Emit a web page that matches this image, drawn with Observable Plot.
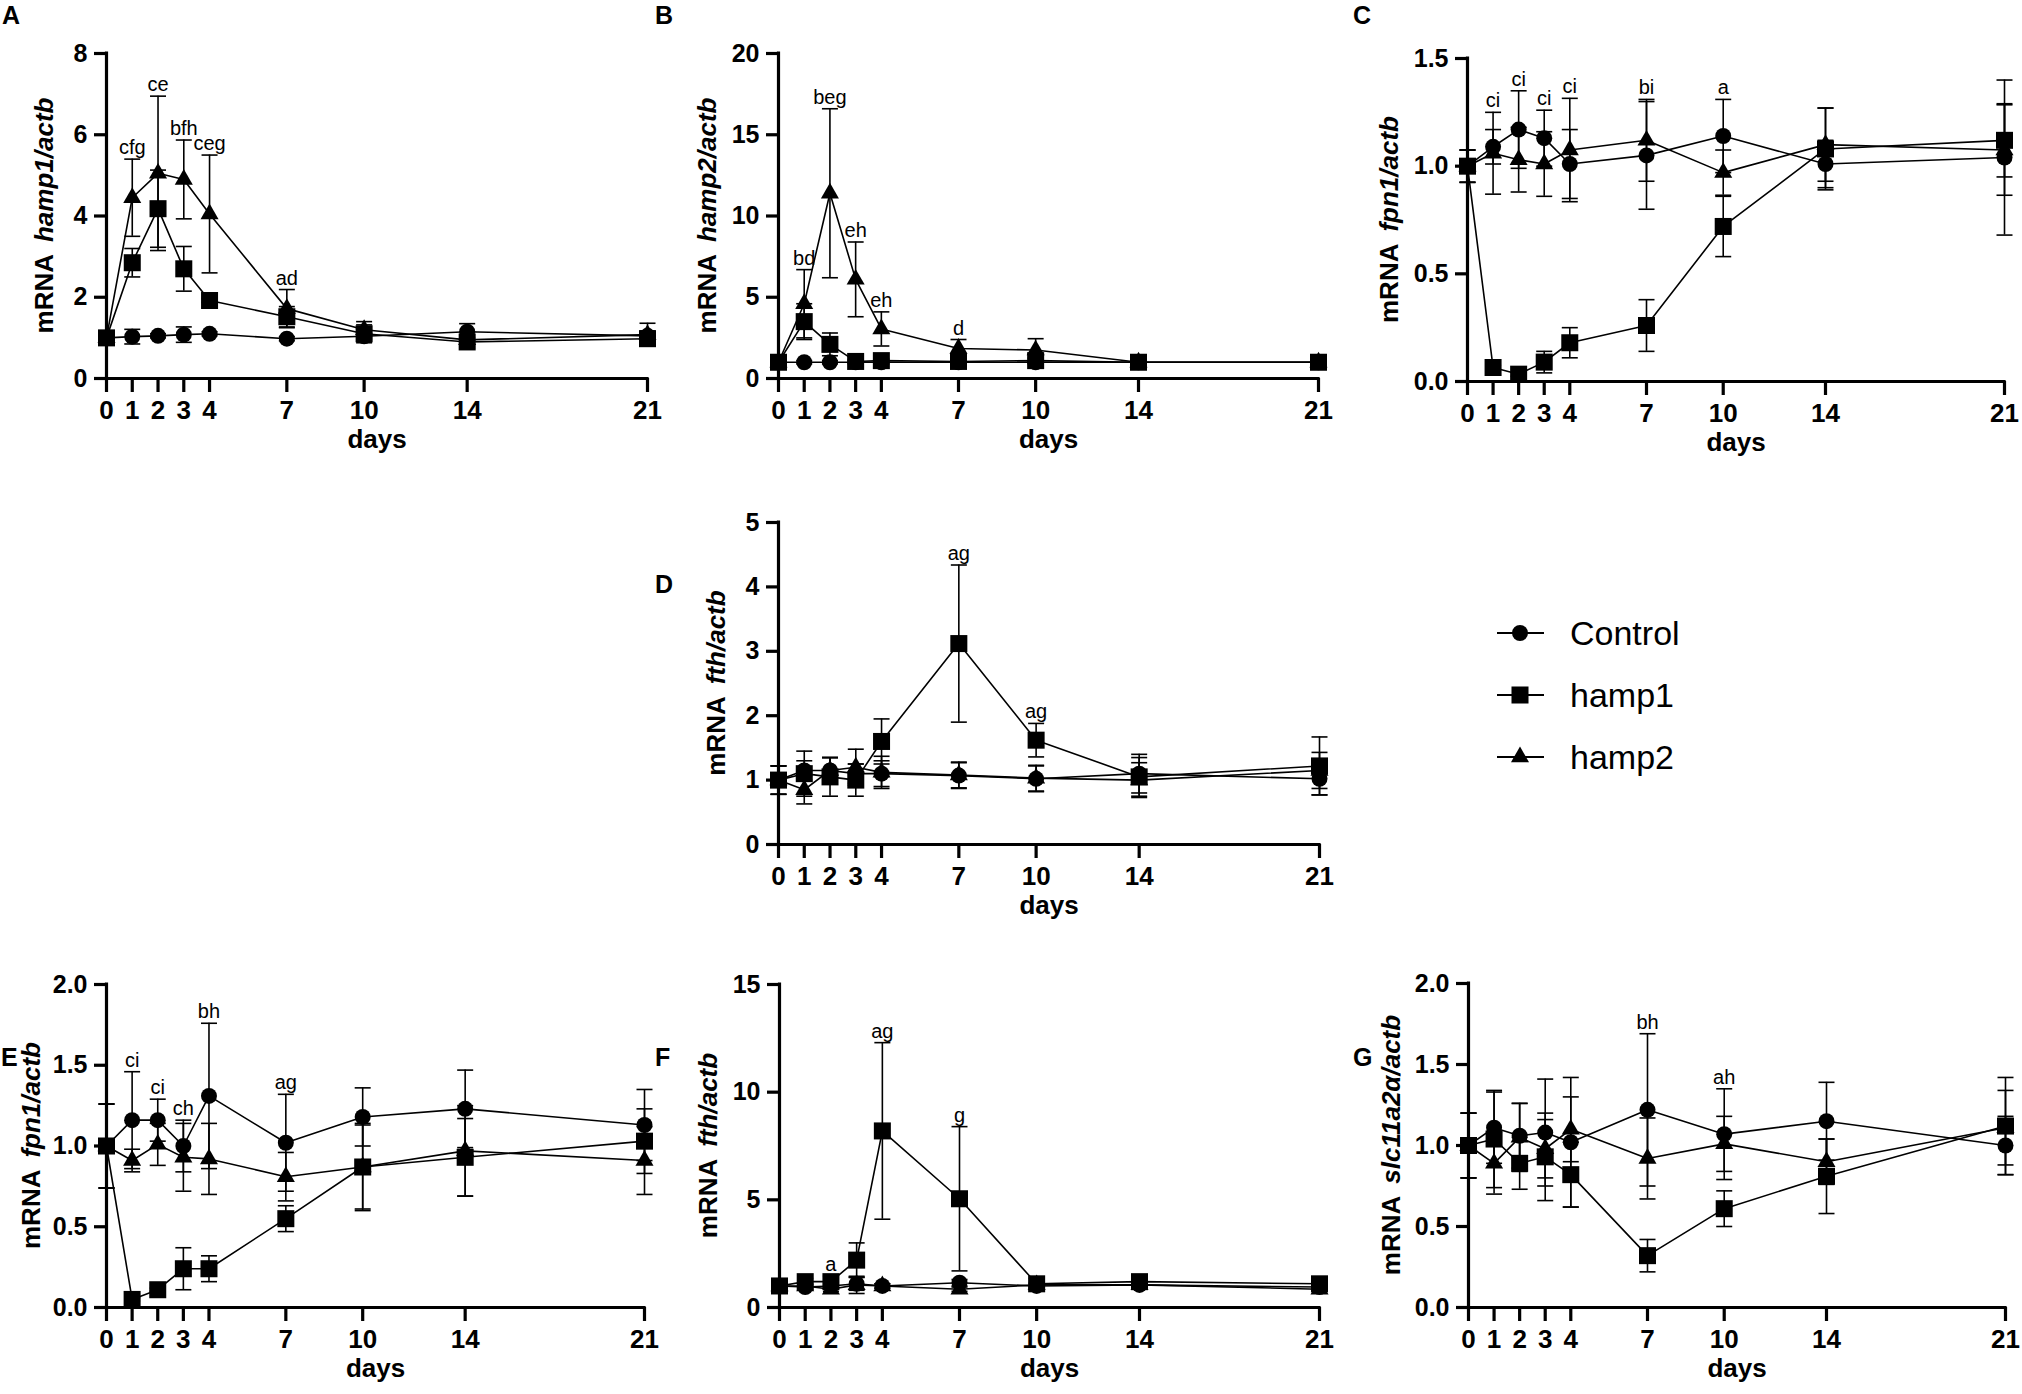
<!DOCTYPE html>
<html><head><meta charset="utf-8">
<script src="https://cdn.jsdelivr.net/npm/d3@7"></script>
<script src="https://cdn.jsdelivr.net/npm/@observablehq/plot@0.6"></script>
<style>
body{margin:0;background:#fff;}
#fig{position:relative;width:2022px;height:1394px;background:#fff;overflow:hidden;font-family:"Liberation Sans",Arial,sans-serif;}
#fig svg{position:absolute;overflow:visible;}
.plabel{position:absolute;font:bold 25px "Liberation Sans",Arial,sans-serif;line-height:1;}
</style></head><body><div id="fig"></div>
<script>
// ---------- data ----------
const days = [0, 1, 2, 3, 4, 7, 10, 14, 21];

// A: hamp1/actb
const aCtrl   = [1.00, 1.03, 1.05, 1.08, 1.10, 0.98, 1.04, 1.15, 1.05];
const aCtrlSd = [0.05, 0.18, 0.05, 0.19, 0.05, 0.05, 0.08, 0.20, 0.12];
const aH1     = [1.00, 2.85, 4.18, 2.70, 1.92, 1.52, 1.10, 0.90, 0.98];
const aH1Sd   = [0.05, 0.35, 0.95, 0.55, 0.05, 0.25, 0.22, 0.10, 0.10];
const aH2     = [1.00, 4.45, 5.05, 4.90, 4.05, 1.72, 1.20, 0.95, 1.08];
const aH2Sd   = [0.05, 0.95, 1.90, 0.97, 1.45, 0.47, 0.20, 0.20, 0.28];
const aAnn    = ["", "cfg", "ce", "bfh", "ceg", "ad", "", "", ""];
const aTicks  = [0, 2, 4, 6, 8];

// B: hamp2/actb
const bCtrl   = [1.00, 1.00, 1.00, 1.00, 1.00, 1.00, 1.00, 1.00, 1.00];
const bCtrlSd = [0.10, 0.10, 0.10, 0.10, 0.10, 0.10, 0.10, 0.10, 0.10];
const bH1     = [1.00, 3.50, 2.10, 1.05, 1.10, 1.05, 1.10, 1.00, 1.00];
const bH1Sd   = [0.10, 1.10, 0.70, 0.10, 0.10, 0.15, 0.15, 0.10, 0.10];
const bH2     = [1.00, 4.60, 11.40, 6.10, 3.05, 1.85, 1.75, 1.00, 1.00];
const bH2Sd   = [0.10, 2.10, 5.20, 2.30, 1.05, 0.55, 0.70, 0.10, 0.10];
const bAnn    = ["", "bd", "beg", "eh", "eh", "d", "", "", ""];
const bTicks  = [0, 5, 10, 15, 20];

// C: fpn1/actb
const cCtrl   = [1.00, 1.09, 1.17, 1.13, 1.01, 1.05, 1.14, 1.01, 1.04];
const cCtrlSd = [0.075, 0.08, 0.18, 0.13, 0.16, 0.25, 0.17, 0.11, 0.36];
const cH1     = [1.00, 0.065, 0.034, 0.09, 0.18, 0.26, 0.72, 1.08, 1.12];
const cH1Sd   = [0.075, 0.01, 0.01, 0.05, 0.07, 0.12, 0.14, 0.19, 0.17];
const cH2     = [1.00, 1.06, 1.03, 1.01, 1.075, 1.12, 0.97, 1.10, 1.075];
const cH2Sd   = [0.075, 0.19, 0.15, 0.15, 0.24, 0.19, 0.105, 0.17, 0.21];
const cAnn    = ["", "ci", "ci", "ci", "ci", "bi", "a", "", ""];
const cTicks  = [0, 0.5, 1.0, 1.5];

// D: fth/actb
const dCtrl   = [1.00, 1.15, 1.15, 1.10, 1.10, 1.07, 1.02, 1.10, 1.02];
const dCtrlSd = [0.22, 0.15, 0.20, 0.15, 0.20, 0.20, 0.20, 0.30, 0.25];
const dH1     = [1.00, 1.10, 1.05, 1.00, 1.60, 3.12, 1.62, 1.05, 1.22];
const dH1Sd   = [0.22, 0.35, 0.30, 0.25, 0.35, 1.22, 0.26, 0.30, 0.45];
const dH2     = [1.00, 0.85, 1.15, 1.20, 1.12, 1.08, 1.03, 1.00, 1.15];
const dH2Sd   = [0.22, 0.22, 0.20, 0.28, 0.25, 0.20, 0.20, 0.27, 0.28];
const dAnn    = ["", "", "", "", "", "ag", "ag", "", ""];
const dTicks  = [0, 1, 2, 3, 4, 5];

// E: fpn1/actb
const eCtrl   = [1.00, 1.16, 1.16, 1.00, 1.31, 1.02, 1.18, 1.23, 1.13];
const eCtrlSd = [0.26, 0.30, 0.13, 0.16, 0.45, 0.30, 0.18, 0.24, 0.22];
const eH1     = [1.00, 0.05, 0.11, 0.24, 0.24, 0.55, 0.87, 0.93, 1.03];
const eH1Sd   = [0.26, 0.01, 0.01, 0.13, 0.08, 0.08, 0.27, 0.24, 0.20];
const eH2     = [1.00, 0.91, 1.01, 0.93, 0.92, 0.81, 0.87, 0.97, 0.91];
const eH2Sd   = [0.26, 0.07, 0.13, 0.21, 0.22, 0.15, 0.26, 0.28, 0.21];
const eAnn    = ["", "ci", "ci", "ch", "bh", "ag", "", "", ""];
const eTicks  = [0, 0.5, 1.0, 1.5, 2.0];

// F: fth/actb
const fCtrl   = [1.00, 0.95, 1.00, 1.10, 1.00, 1.15, 1.00, 1.05, 0.95];
const fCtrlSd = [0.10, 0.10, 0.10, 0.30, 0.10, 0.15, 0.10, 0.10, 0.10];
const fH1     = [1.00, 1.20, 1.20, 2.20, 8.20, 5.05, 1.10, 1.20, 1.10];
const fH1Sd   = [0.10, 0.15, 0.25, 0.80, 4.10, 3.35, 0.25, 0.20, 0.15];
const fH2     = [1.00, 1.00, 0.85, 1.05, 1.00, 0.85, 1.05, 1.05, 0.85];
const fH2Sd   = [0.10, 0.10, 0.10, 0.40, 0.10, 0.10, 0.10, 0.10, 0.10];
const fAnn    = ["", "", "a", "", "ag", "g", "", "", ""];
const fTicks  = [0, 5, 10, 15];

// G: slc11a2α/actb
const gCtrl   = [1.00, 1.11, 1.06, 1.08, 1.02, 1.22, 1.07, 1.15, 1.00];
const gCtrlSd = [0.20, 0.22, 0.20, 0.33, 0.40, 0.47, 0.28, 0.24, 0.18];
const gH1     = [1.00, 1.04, 0.89, 0.93, 0.82, 0.32, 0.61, 0.81, 1.12];
const gH1Sd   = [0.20, 0.30, 0.16, 0.27, 0.20, 0.10, 0.11, 0.23, 0.30];
const gH2     = [1.00, 0.89, 1.05, 0.98, 1.10, 0.92, 1.01, 0.90, 1.11];
const gH2Sd   = [0.20, 0.19, 0.21, 0.18, 0.20, 0.25, 0.17, 0.14, 0.23];
const gAnn    = ["", "", "", "", "", "bh", "ah", "", ""];
const gTicks  = [0, 0.5, 1.0, 1.5, 2.0];

const seriesNames = ["Control", "hamp1", "hamp2"];

// ---------- layout ----------
const FONT = '"Liberation Sans", Arial, sans-serif';
const f1 = d3.format(".1f");
const panels = [
  {letter:"A", gene:"hamp1/actb", L:106, R:647, T:53, B:378, ymax:8, ticks:aTicks, fmt:d=>d, off:62,
   s:[[aCtrl,aCtrlSd],[aH1,aH1Sd],[aH2,aH2Sd]], ann:aAnn, lx:2, ly:3},
  {letter:"B", gene:"hamp2/actb", L:778, R:1318, T:53, B:378, ymax:20, ticks:bTicks, fmt:d=>d, off:71,
   s:[[bCtrl,bCtrlSd],[bH1,bH1Sd],[bH2,bH2Sd]], ann:bAnn, lx:655, ly:3},
  {letter:"C", gene:"fpn1/actb", L:1467, R:2004, T:58, B:381, ymax:1.5, ticks:cTicks, fmt:f1, off:78,
   s:[[cCtrl,cCtrlSd],[cH1,cH1Sd],[cH2,cH2Sd]], ann:cAnn, lx:1353, ly:3},
  {letter:"D", gene:"fth/actb", L:778, R:1319, T:522, B:844, ymax:5, ticks:dTicks, fmt:d=>d, off:62,
   s:[[dCtrl,dCtrlSd],[dH1,dH1Sd],[dH2,dH2Sd]], ann:dAnn, lx:655, ly:572},
  {letter:"E", gene:"fpn1/actb", L:106, R:644, T:984, B:1307, ymax:2, ticks:eTicks, fmt:f1, off:75,
   s:[[eCtrl,eCtrlSd],[eH1,eH1Sd],[eH2,eH2Sd]], ann:eAnn, lx:1, ly:1045},
  {letter:"F", gene:"fth/actb", L:779, R:1319, T:984, B:1307, ymax:15, ticks:fTicks, fmt:d=>d, off:71,
   s:[[fCtrl,fCtrlSd],[fH1,fH1Sd],[fH2,fH2Sd]], ann:fAnn, lx:655, ly:1045},
  {letter:"G", gene:"slc11a2\u03B1/actb", L:1468, R:2005, T:983, B:1307, ymax:2, ticks:gTicks, fmt:f1, off:77,
   s:[[gCtrl,gCtrlSd],[gH1,gH1Sd],[gH2,gH2Sd]], ann:gAnn, lx:1353, ly:1045}
];

const cap = {draw(ctx){ ctx.moveTo(-8, 0); ctx.lineTo(8, 0); }};
const fig = document.getElementById("fig");

function drawPanel(p){
  const ml = 120, mr = 24, mt = 30, mb = 100;
  const W = p.R - p.L + ml + mr, H = p.B - p.T + mt + mb;
  const rows = [];
  p.s.forEach(([v, sd], k) => days.forEach((d, i) =>
    rows.push({series: seriesNames[k], day: d, v: v[i], lo: v[i] - sd[i], hi: v[i] + sd[i]})));
  const ann = days.map((d, i) => ({day: d, label: p.ann[i],
    top: d3.max(rows.filter(r => r.day === d), r => r.hi)})).filter(a => a.label);
  const bySeries = n => rows.filter(r => r.series === n);
  const svg = Plot.plot({
    width: W, height: H, marginLeft: ml, marginRight: mr, marginTop: mt, marginBottom: mb,
    x: {domain: [0, 21]}, y: {domain: [0, p.ymax]},
    style: {fontFamily: FONT, background: "transparent", color: "black", overflow: "visible"},
    marks: [
      Plot.ruleX(rows, {x: "day", y1: "lo", y2: "hi", stroke: "black", strokeWidth: 1.6}),
      Plot.dot(rows, {x: "day", y: "hi", symbol: cap, r: 5, stroke: "black", strokeWidth: 1.6, fill: "none"}),
      Plot.dot(rows, {x: "day", y: "lo", symbol: cap, r: 5, stroke: "black", strokeWidth: 1.6, fill: "none"}),
      Plot.line(rows, {x: "day", y: "v", z: "series", stroke: "black", strokeWidth: 1.6}),
      Plot.dot(bySeries("Control"), {x: "day", y: "v", symbol: "circle", r: 8, fill: "black"}),
      Plot.dot(bySeries("hamp2"), {x: "day", y: "v", symbol: "triangle", r: 6.7, fill: "black"}),
      Plot.dot(bySeries("hamp1"), {x: "day", y: "v", symbol: "square", r: 9.6, fill: "black"}),
      Plot.text(ann, {x: "day", y: "top", text: "label", dy: -5, lineAnchor: "bottom", fontSize: 20, fill: "black"}),
      Plot.ruleY([0], {stroke: "black", strokeWidth: 3.2, strokeLinecap: "square"}),
      Plot.ruleX([0], {stroke: "black", strokeWidth: 3.2, strokeLinecap: "square"}),
      Plot.axisX({ticks: days, tickSize: 14, tickPadding: 8, strokeWidth: 3.2, fontSize: 26, fontWeight: "bold", label: null, fill: "black"}),
      Plot.axisY({ticks: p.ticks, tickFormat: p.fmt, tickSize: 12, tickPadding: 7, strokeWidth: 3.2, fontSize: 25, fontWeight: "bold", label: null, fill: "black"}),
      Plot.text(["days"], {text: d => d, frameAnchor: "bottom", dy: 69, fontSize: 26, fontWeight: "bold", fill: "black"})
    ]
  });
  const t = d3.select(svg).append("text")
    .attr("transform", `translate(${ml - p.off},${mt + (p.B - p.T) / 2}) rotate(-90)`)
    .attr("text-anchor", "middle").attr("dy", "0.35em")
    .attr("font-size", 26).attr("font-weight", "bold").attr("font-family", FONT).attr("fill", "black");
  t.append("tspan").text("mRNA");
  t.append("tspan").attr("dx", 12).attr("font-style", "italic").text(p.gene);
  svg.style.left = (p.L - ml) + "px";
  svg.style.top = (p.T - mt) + "px";
  fig.appendChild(svg);
  const lab = document.createElement("div");
  lab.className = "plabel";
  lab.textContent = p.letter;
  lab.style.left = p.lx + "px";
  lab.style.top = p.ly + "px";
  fig.appendChild(lab);
}
panels.forEach(drawPanel);

// ---------- legend ----------
const legendSymbols = [d3.symbolCircle, d3.symbolSquare, d3.symbolTriangle];
const legendR = [8, 9.6, 6.7];
const lg = d3.select(fig).append("svg").attr("width", 320).attr("height", 200)
  .style("left", "1480px").style("top", "590px");
seriesNames.forEach((n, i) => {
  const y = 43 + i * 62;
  const g = lg.append("g").attr("transform", `translate(0,${y})`);
  g.append("line").attr("x1", 17).attr("x2", 64).attr("y1", 0).attr("y2", 0).attr("stroke", "black").attr("stroke-width", 1.8);
  g.append("path").attr("transform", "translate(40,0)")
    .attr("d", d3.symbol(legendSymbols[i], Math.PI * legendR[i] * legendR[i])()).attr("fill", "black");
  g.append("text").attr("x", 90).attr("dy", "0.36em").attr("font-size", 34).attr("font-family", FONT).attr("fill", "black").text(n);
});
</script>
</body></html>
